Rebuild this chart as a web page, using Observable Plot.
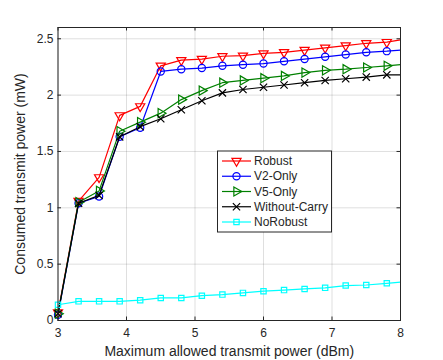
<!DOCTYPE html>
<html><head><meta charset="utf-8">
<script src="https://cdn.jsdelivr.net/npm/d3@7"></script>
<script src="https://cdn.jsdelivr.net/npm/@observablehq/plot@0.6"></script>
<style>
body{margin:0;background:#fff}
#wrap{position:relative;width:443px;height:360px}
#legend{position:absolute;left:0;top:0}
</style>
</head><body><div id="wrap"></div>
<script>
// ---- data ----
const xValues = [3, 3.3, 3.6, 3.9, 4.2, 4.5, 4.8, 5.1, 5.4, 5.7, 6.0, 6.3, 6.6, 6.9, 7.2, 7.5, 7.8, 8];
const seriesNames = ["Robust", "V2-Only", "V5-Only", "Without-Carry", "NoRobust"];
const robust       = [0.07, 1.06, 1.27, 1.82, 1.90, 2.26, 2.31, 2.32, 2.345, 2.35, 2.37, 2.38, 2.40, 2.42, 2.44, 2.46, 2.47, 2.49];
const v2Only       = [0.05, 1.04, 1.10, 1.63, 1.71, 2.21, 2.23, 2.24, 2.26, 2.27, 2.28, 2.30, 2.32, 2.34, 2.36, 2.38, 2.39, 2.40];
const v5Only       = [0.06, 1.05, 1.15, 1.68, 1.76, 1.84, 1.96, 2.04, 2.11, 2.13, 2.15, 2.17, 2.20, 2.22, 2.23, 2.245, 2.26, 2.27];
const withoutCarry = [0.06, 1.04, 1.11, 1.63, 1.72, 1.79, 1.87, 1.95, 2.02, 2.05, 2.07, 2.09, 2.11, 2.13, 2.145, 2.16, 2.18, 2.18];
const noRobust     = [0.14, 0.17, 0.17, 0.17, 0.18, 0.20, 0.20, 0.22, 0.23, 0.245, 0.26, 0.27, 0.28, 0.29, 0.31, 0.315, 0.33, 0.34];
const markerCount = 17; // markers drawn on the first 17 samples
const xTicks = [3, 4, 5, 6, 7, 8];
const xTickLabels = ["3", "4", "5", "6", "7", "8"];
const yTicks = [0, 0.5, 1, 1.5, 2, 2.5];
const yTickLabels = ["0", "0.5", "1", "1.5", "2", "2.5"];
const xLabel = "Maximum allowed transmit power (dBm)";
const yLabel = "Consumed transmit power (mW)";

// ---- styles ----
const seriesValues = [robust, v2Only, v5Only, withoutCarry, noRobust];
const styles = [
  {color: "#ff0000", symbol: "triangle", d3sym: d3.symbolTriangle, rotate: 180, r: 3.4},
  {color: "#0000ff", symbol: "circle",   d3sym: d3.symbolCircle,   rotate: 0,   r: 3.6},
  {color: "#008000", symbol: "triangle", d3sym: d3.symbolTriangle, rotate: 90,  r: 3.4},
  {color: "#000000", symbol: "times",    d3sym: d3.symbolTimes,    rotate: 0,   r: 3.4},
  {color: "#00ffff", symbol: "square",   d3sym: d3.symbolSquare,   rotate: 0,   r: 3.0}
];
const axisColor = "#262626";
const font = "'Liberation Sans', Arial, Helvetica, sans-serif";

const W = 443, H = 360, mL = 57.5, mR = 43, mT = 27, mB = 40;
const pw = W - mL - mR, ph = H - mT - mB, tickLen = 3.5;

const seriesMarks = [];
seriesNames.forEach((name, s) => {
  const rows = xValues.map((x, i) => ({x, y: seriesValues[s][i], i}));
  const st = styles[s];
  seriesMarks.push(Plot.line(rows, {x: "x", y: "y", stroke: st.color, strokeWidth: 1.2}));
  seriesMarks.push(Plot.dot(rows.filter(d => d.i < markerCount), {
    x: "x", y: "y", stroke: st.color, fill: "none", symbol: st.symbol,
    rotate: st.rotate, r: st.r, strokeWidth: 1.2
  }));
});

const chart = Plot.plot({
  width: W, height: H,
  marginLeft: mL, marginRight: mR, marginTop: mT, marginBottom: mB,
  x: {domain: [3, 8]},
  y: {domain: [0, 2.6]},
  style: {fontFamily: font, fontSize: "12px", color: axisColor, background: "#fff"},
  marks: [
    Plot.gridX(xTicks, {stroke: axisColor, strokeOpacity: 0.15, strokeWidth: 1}),
    Plot.gridY(yTicks, {stroke: axisColor, strokeOpacity: 0.15, strokeWidth: 1}),
    ...seriesMarks,
    Plot.frame({stroke: axisColor, strokeWidth: 1}),
    Plot.tickX(xTicks, {x: d => d, stroke: axisColor, insetTop: ph - tickLen}),
    Plot.tickX(xTicks, {x: d => d, stroke: axisColor, insetBottom: ph - tickLen}),
    Plot.tickY(yTicks, {y: d => d, stroke: axisColor, insetRight: pw - tickLen}),
    Plot.tickY(yTicks, {y: d => d, stroke: axisColor, insetLeft: pw - tickLen}),
    Plot.axisX(xTicks, {tickSize: 0, tickPadding: 8, fontSize: 12, label: null,
      tickFormat: (d) => xTickLabels[xTicks.indexOf(d)], fill: axisColor}),
    Plot.axisY(yTicks, {tickSize: 0, tickPadding: 4.5, fontSize: 12, label: null,
      tickFormat: (d) => yTickLabels[yTicks.indexOf(d)], fill: axisColor}),
    Plot.text([xLabel], {text: d => d, frameAnchor: "bottom", dy: 31, lineAnchor: "middle",
      textAnchor: "middle", fontSize: 14, fill: axisColor}),
    Plot.text([yLabel], {text: d => d, frameAnchor: "left", dx: -37.5, rotate: -90,
      textAnchor: "middle", lineAnchor: "middle", fontSize: 14, fill: axisColor})
  ]
});
const wrap = document.getElementById("wrap");
wrap.appendChild(chart);

// ---- legend ----
const lg = d3.select(wrap).append("svg").attr("id", "legend")
  .attr("width", W).attr("height", H)
  .style("font-family", font).style("pointer-events", "none");
const lx = 217.5, ly = 151, lw = 114, lh = 81, rowH = 15.25;
lg.append("rect").attr("x", lx).attr("y", ly).attr("width", lw).attr("height", lh)
  .attr("fill", "#fff").attr("stroke", axisColor).attr("stroke-width", 1);
seriesNames.forEach((name, s) => {
  const st = styles[s];
  const cy = ly + 10 + s * rowH;
  lg.append("line").attr("x1", lx + 4.5).attr("x2", lx + 33.5).attr("y1", cy).attr("y2", cy)
    .attr("stroke", st.color).attr("stroke-width", 1.2);
  lg.append("path").attr("d", d3.symbol(st.d3sym, Math.PI * st.r * st.r)())
    .attr("transform", `translate(${lx + 19},${cy}) rotate(${st.rotate})`)
    .attr("fill", "none").attr("stroke", st.color).attr("stroke-width", 1.2);
  lg.append("text").attr("x", lx + 36.5).attr("y", cy).attr("dy", "0.35em")
    .attr("font-size", 12).attr("fill", axisColor).text(name);
});
</script>
</body></html>
